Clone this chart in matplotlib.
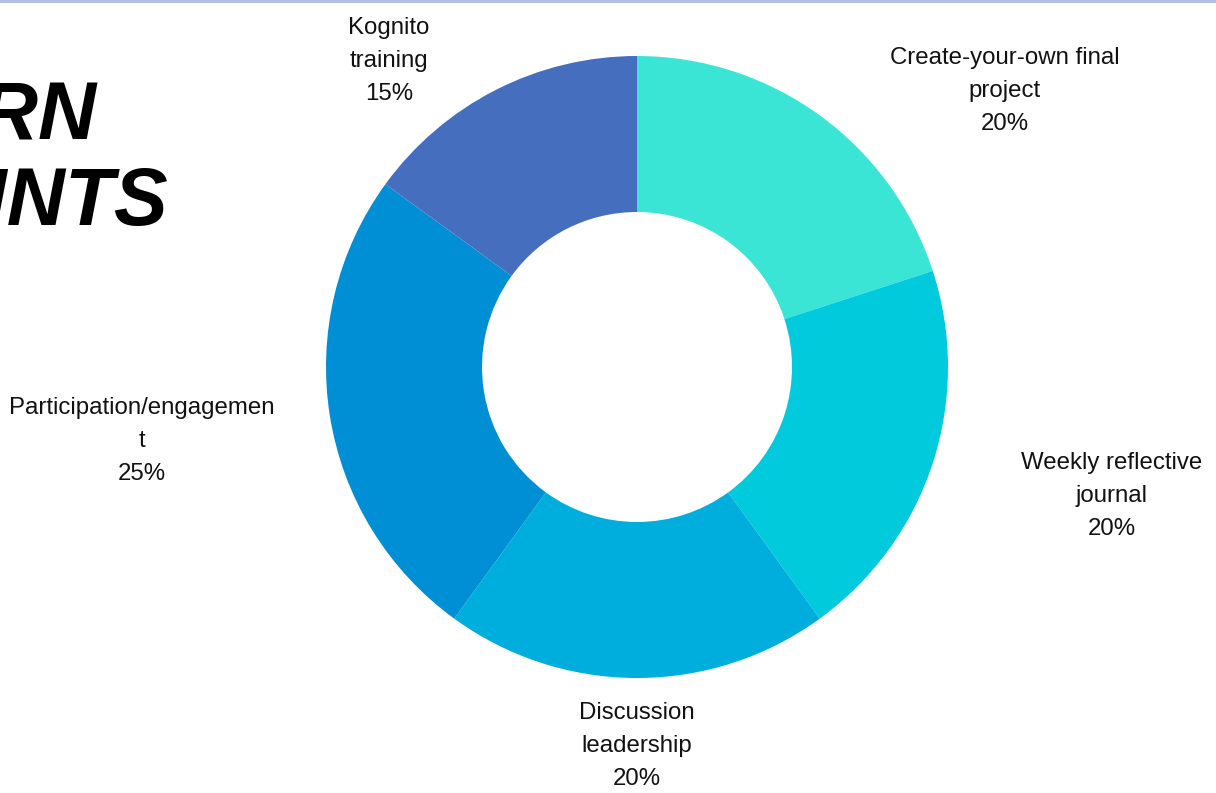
import matplotlib
matplotlib.use("Agg")
import matplotlib.pyplot as plt
from matplotlib.patches import Rectangle

categories = ["Create-your-own final\nproject", "Weekly reflective\njournal",
              "Discussion\nleadership", "Participation/engagemen\nt", "Kognito\ntraining"]
values = [20, 20, 20, 25, 15]
colors = ["#3be5d6", "#00cadc", "#00aedd", "#008fd5", "#456ebf"]
title_lines = ["EARN", "POINTS"]

W, H = 1216, 793
cx, cy = 637, 367
fig = plt.figure(figsize=(W / 100, H / 100), dpi=100)
ax = fig.add_axes([0, 0, 1, 1])

wedges, _ = ax.pie(values, colors=colors, startangle=90, counterclock=False,
                   radius=311, center=(0, 0),
                   wedgeprops=dict(width=156, edgecolor="none", linewidth=0))
ax.set_xlim(-cx, W - cx)
ax.set_ylim(-(H - cy), cy)
ax.set_aspect("equal", adjustable="box")
ax.axis("off")

# label positions (pixel offsets from the donut centre, y up)
label_pos = [(368, 276), (475, -129), (0, -379), (-495, -74), (-248, 306)]
for (lx, ly), cat, v in zip(label_pos, categories, values):
    ax.text(lx, ly, f"{cat}\n{v}%", ha="center", va="center",
            fontsize=17.3, family=["Liberation Sans", "DejaVu Sans"],
            color="#111111", linespacing=1.65)

# partially visible title on the left
ax.text(97 - cx, cy - 140, title_lines[0], ha="right", va="baseline",
        fontsize=58, fontweight="bold", fontstyle="italic",
        family=["Liberation Sans Narrow", "Liberation Sans", "DejaVu Sans"], color="black")
ax.text(168 - cx, cy - 225, title_lines[1], ha="right", va="baseline",
        fontsize=58, fontweight="bold", fontstyle="italic",
        family=["Liberation Sans Narrow", "Liberation Sans", "DejaVu Sans"], color="black")

fig.add_artist(Rectangle((0, 1 - 3 / H), 1, 3 / H, transform=fig.transFigure,
                         facecolor="#b4bde6", edgecolor="none"))

fig.savefig("out.png", dpi=100, facecolor="white")
